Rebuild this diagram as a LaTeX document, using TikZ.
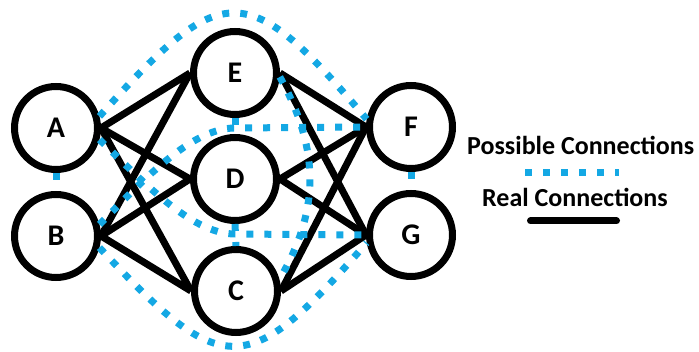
\documentclass[tikz,border=0pt]{standalone}
\usepackage{fontspec}
\setmainfont{Carlito}
\definecolor{linkblue}{RGB}{20,168,228}

\begin{document}
\begin{tikzpicture}[x=1pt, y=-1pt,
    vertex/.style={circle, draw=black, line width=7pt, fill=white, minimum size=83pt, inner sep=0pt, font=\fontsize{30}{30}\selectfont\bfseries},
    real/.style={black, line width=7pt},
    possible/.style={linkblue, line width=7pt, dash pattern=on 7pt off 11pt},
    legend_text/.style={font=\fontsize{26}{26}\selectfont\bfseries, inner sep=0pt, anchor=base west}
]

\useasboundingbox (0,0) rectangle (699,352);

% Place the vertices
\node[vertex] (A) at (56,128) {A};
\node[vertex] (B) at (56,236) {B};
\node[vertex] (E) at (235,73) {E};
\node[vertex] (D) at (235,179) {D};
\node[vertex] (C) at (236,291) {C};
\node[vertex] (F) at (411,127) {F};
\node[vertex] (G) at (411,235) {G};

% Draw the real connections
\foreach \s in {A,B}
  \foreach \t in {E,D,C}
    \draw[real] (\s.east) -- (\t.west);
\foreach \s in {E,D,C}
  \foreach \t in {F,G}
    \draw[real] (\s.east) -- (\t.west);

% Draw the possible connections (on top of the real ones)
\draw[possible] (A.south) -- (B.north);
\draw[possible] (E.south) -- (D.north);
\draw[possible] (D.south) -- (C.north);
\draw[possible] (F.south) -- (G.north);
\draw[possible] (A.15) .. controls (223,-22) and (247,-22) .. (F.170);
\draw[possible] (B.-15) .. controls (223,380) and (247,380) .. (G.-170);
\draw[possible] (B.15) .. controls (140,184) and (190,128) .. (235,128) -- (F.west);
\draw[possible] (A.-15) .. controls (140,178) and (190,234) .. (235,234) -- (G.west);
\draw[possible] (E.-5) .. controls (320,150) and (320,210) .. (C.15);

% Legend
\node[legend_text] (possible_label) at (467,155) {Possible Connections};
\coordinate (possible_start) at (525,173);
\coordinate (possible_end) at (619,173);
\draw[possible] (possible_start) -- (possible_end);

\node[legend_text] (real_label) at (482,207) {Real Connections};
\coordinate (real_start) at (530.5,221);
\coordinate (real_end) at (616.5,221);
\draw[real, line cap=round] (real_start) -- (real_end);

\end{tikzpicture}
\end{document}
